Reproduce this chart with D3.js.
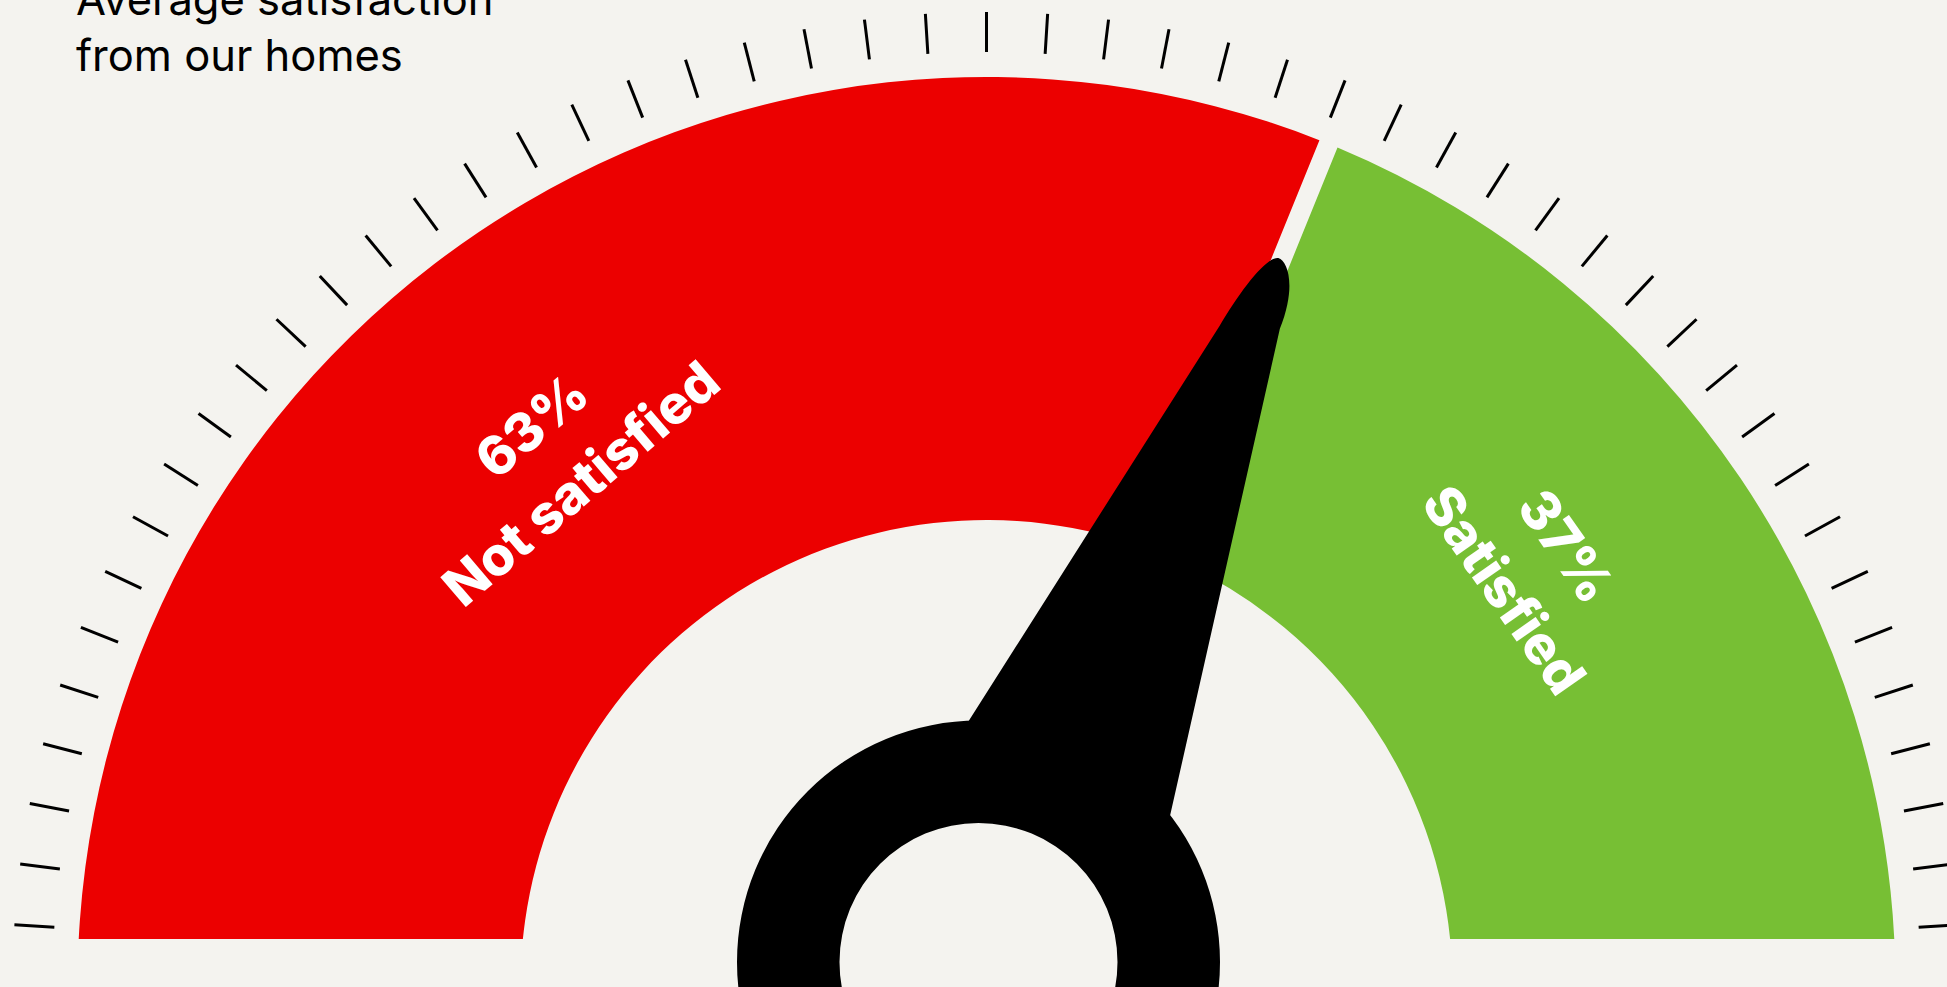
<!DOCTYPE html>
<html>
<head>
<meta charset="utf-8">
<script src="https://cdn.jsdelivr.net/npm/d3@7"></script>
<style>
  html, body { margin: 0; padding: 0; background: #F4F3EF; }
  svg { display: block; }
</style>
</head>
<body>
<svg id="chart"></svg>
<script>
// ---- data ----
const categories = ["Not satisfied", "Satisfied"];
const values = [63, 37];
const needleValue = 63;
const titleLines = ["Average satisfaction", "from our homes"];
const tickValues = d3.range(2, 100, 2);   // dial graduations, every 2 points on a 0–100 scale

// ---- styling / layout ----
const W = 1947, H = 987;
const colors = ["#EC0000", "#77BF34"];
const bg = "#F4F3EF";
const deg = Math.PI / 180;
const cx = 986.5, cy = 986;
const rInner = 466, rOuter = 909;
const tickR0 = 934, tickR1 = 974;
const baselineY = 939;                 // the dial is cut flat here
const labelFont = "Inter, 'Open Sans', sans-serif";

const svg = d3.select("#chart").attr("width", W).attr("height", H);
svg.append("rect").attr("width", W).attr("height", H).attr("fill", bg);

svg.append("clipPath").attr("id", "dial-clip")
  .append("rect").attr("x", 0).attr("y", 0).attr("width", W).attr("height", baselineY);

// value -> angle on the coloured band
const total = d3.sum(values);
const bandAngle = d3.scaleLinear().domain([0, total]).range([-85 * deg, 85 * deg]);
// value -> angle for graduations (full half circle)
const tickAngle = d3.scaleLinear().domain([0, 100]).range([-90 * deg, 90 * deg]);

let acc = 0;
const slices = values.map((v, i) => {
  const s = { category: categories[i], value: v, start: acc, end: acc + v, color: colors[i] };
  acc += v;
  return s;
});
slices.forEach((s, i) => {
  s.startAngle = bandAngle(s.start);
  s.endAngle = bandAngle(s.end);
  // outer ends of the band run down to the flat baseline
  if (i === 0) s.startAngle = -90 * deg;
  if (i === slices.length - 1) s.endAngle = 90 * deg;
});

const arc = d3.arc()
  .innerRadius(rInner)
  .outerRadius(rOuter)
  .padRadius(1000)
  .padAngle(0.0195);

const dial = svg.append("g").attr("transform", `translate(${cx},${cy})`);

dial.append("g").attr("clip-path", "url(#dial-clip)")
  .attr("transform", `translate(${-cx},${-cy})`)
  .append("g").attr("transform", `translate(${cx},${cy})`)
  .selectAll("path")
  .data(slices)
  .join("path")
  .attr("d", d => arc({ startAngle: d.startAngle, endAngle: d.endAngle }))
  .attr("fill", d => d.color);

// graduations
dial.append("g")
  .selectAll("line")
  .data(tickValues)
  .join("line")
  .attr("x1", d => tickR0 * Math.sin(tickAngle(d)))
  .attr("y1", d => -tickR0 * Math.cos(tickAngle(d)))
  .attr("x2", d => tickR1 * Math.sin(tickAngle(d)))
  .attr("y2", d => -tickR1 * Math.cos(tickAngle(d)))
  .attr("stroke", "#000")
  .attr("stroke-width", 3);

// slice labels
const labelLayout = [
  { angle: -39, radius: 684, rotate: -40.5 },
  { angle: 52.7, radius: 690, rotate: 55 }
];
const fontSize = 54, lineGap = 76, capH = 39;

dial.append("g")
  .selectAll("text")
  .data(slices)
  .join("text")
  .attr("transform", (d, i) => {
    const L = labelLayout[i];
    const a = L.angle * deg;
    return `translate(${L.radius * Math.sin(a)},${-L.radius * Math.cos(a)}) rotate(${L.rotate})`;
  })
  .attr("text-anchor", "middle")
  .attr("fill", "#fff")
  .attr("font-family", labelFont)
  .attr("font-weight", 800)
  .attr("font-size", fontSize)
  .each(function (d) {
    const t = d3.select(this);
    t.append("tspan").attr("x", 0).attr("y", -lineGap / 2 + capH / 2).text(`${d.value}%`);
    t.append("tspan").attr("x", 0).attr("y", lineGap / 2 + capH / 2).text(d.category);
  });

// needle with ring hub
const hub = svg.append("g")
  .attr("transform", `translate(${cx - 8},${cy - 24})`);

hub.append("path")
  .attr("d", d3.arc().innerRadius(139).outerRadius(241.5).startAngle(0).endAngle(2 * Math.PI)())
  .attr("fill", "#000");

const np = d3.path();
np.moveTo(-107, -180);
np.lineTo(-16, -680);
np.bezierCurveTo(-10, -720, 1, -762, 13, -765);
np.bezierCurveTo(23, -766, 41, -745, 41, -700);
np.lineTo(127, -180);
np.closePath();

hub.append("path")
  .attr("d", np.toString())
  .attr("transform", `rotate(${bandAngle(needleValue) / deg})`)
  .attr("fill", "#000");

// title
svg.append("text")
  .attr("font-family", "Inter, 'Liberation Sans', sans-serif")
  .attr("font-size", 43.5)
  .attr("fill", "#000")
  .selectAll("tspan")
  .data(titleLines)
  .join("tspan")
  .attr("x", 76)
  .attr("y", (d, i) => 15 + i * 56)
  .text(d => d);
</script>
</body>
</html>
